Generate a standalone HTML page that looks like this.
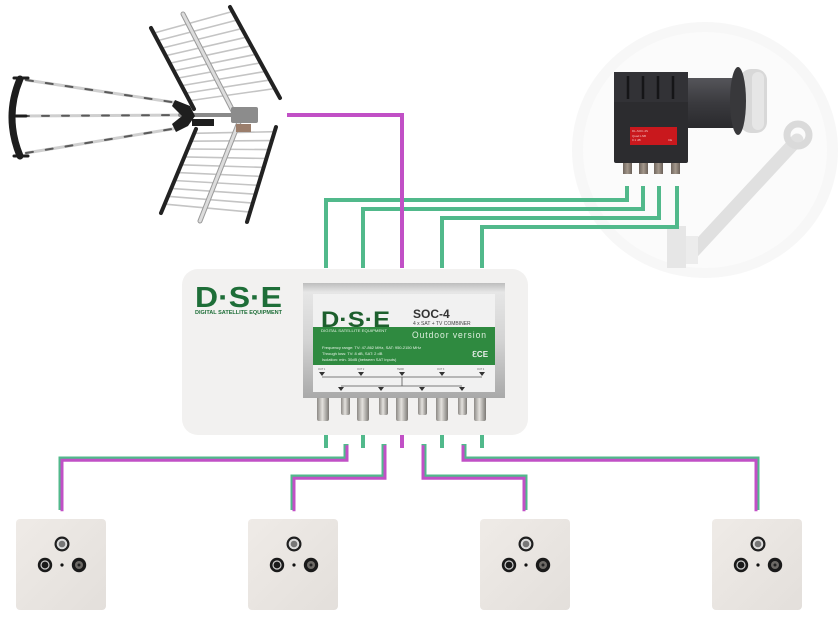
<!DOCTYPE html>
<html><head><meta charset="utf-8"><style>
html,body{margin:0;padding:0;background:#fff;}
svg{display:block;}
text{font-family:"Liberation Sans",sans-serif;}
</style></head><body>
<svg width="838" height="626" viewBox="0 0 838 626" xmlns="http://www.w3.org/2000/svg">
<defs>
<linearGradient id="metal" x1="0" y1="0" x2="0" y2="1">
<stop offset="0" stop-color="#bdbdbd"/><stop offset="0.08" stop-color="#e6e6e6"/><stop offset="0.5" stop-color="#d3d3d3"/><stop offset="1" stop-color="#a9a9a9"/></linearGradient>
<linearGradient id="conn" x1="0" y1="0" x2="1" y2="0">
<stop offset="0" stop-color="#8d8a86"/><stop offset="0.45" stop-color="#e4e2de"/><stop offset="1" stop-color="#7c7975"/></linearGradient>
<linearGradient id="barrel" x1="0" y1="0" x2="0" y2="1">
<stop offset="0" stop-color="#55555a"/><stop offset="0.5" stop-color="#3a3a3e"/><stop offset="1" stop-color="#2a2a2d"/></linearGradient>
<linearGradient id="plate" x1="0" y1="0" x2="1" y2="1">
<stop offset="0" stop-color="#efebe7"/><stop offset="1" stop-color="#e3dfdb"/></linearGradient>
<linearGradient id="lnbc" x1="0" y1="0" x2="1" y2="0">
<stop offset="0" stop-color="#6f655d"/><stop offset="0.5" stop-color="#a4988c"/><stop offset="1" stop-color="#6a6058"/></linearGradient>
</defs>

<!-- Dish background -->
<ellipse cx="705" cy="150" rx="133" ry="128" fill="#f7f7f7"/>
<ellipse cx="705" cy="150" rx="122" ry="118" fill="#fbfbfb"/>
<!-- dish arm -->
<line x1="797" y1="140" x2="693" y2="252" stroke="#e0e0e0" stroke-width="13" stroke-linecap="round"/>
<circle cx="798" cy="135" r="11" fill="none" stroke="#dadada" stroke-width="7"/>
<rect x="667" y="226" width="19" height="42" fill="#e6e6e6"/>
<rect x="686" y="236" width="12" height="28" fill="#ececec"/>

<!-- LNB -->
<rect x="686" y="78" width="50" height="50" fill="url(#barrel)"/>
<rect x="740" y="69" width="27" height="64" rx="11" fill="#d8d8d8"/>
<rect x="752" y="72" width="12" height="58" rx="6" fill="#e6e6e6"/>
<ellipse cx="738" cy="101" rx="8" ry="34" fill="#38383b"/>
<rect x="614" y="72" width="74" height="91" rx="2" fill="#2c2c2f"/>
<rect x="614" y="72" width="74" height="30" fill="#323236"/>
<g stroke="#151517" stroke-width="2.5">
<line x1="628" y1="76" x2="628" y2="99"/><line x1="643" y1="76" x2="643" y2="99"/>
<line x1="658" y1="76" x2="658" y2="99"/><line x1="673" y1="76" x2="673" y2="99"/>
</g>
<rect x="630" y="127" width="47" height="18" fill="#c9181d"/>
<g fill="#f0c0c0" font-size="3">
<text x="632" y="132">DL-SOC-4S</text><text x="632" y="137">Quad LNB</text><text x="632" y="141">0.1 dB</text>
<text x="668" y="141">CE</text></g>
<rect x="623" y="163" width="9" height="11" fill="url(#lnbc)"/>
<rect x="639" y="163" width="9" height="11" fill="url(#lnbc)"/>
<rect x="654" y="163" width="9" height="11" fill="url(#lnbc)"/>
<rect x="671" y="163" width="9" height="11" fill="url(#lnbc)"/>

<!-- Antenna -->
<g stroke-linecap="round">
<line x1="26" y1="80" x2="178" y2="103" stroke="#cfcfcf" stroke-width="3"/>
<line x1="22" y1="116" x2="188" y2="115" stroke="#cfcfcf" stroke-width="3"/>
<line x1="26" y1="153" x2="178" y2="128" stroke="#cfcfcf" stroke-width="3"/>
<line x1="26" y1="80" x2="178" y2="103" stroke="#5a5a5a" stroke-width="2" stroke-dasharray="7 13"/>
<line x1="22" y1="116" x2="188" y2="115" stroke="#5a5a5a" stroke-width="2" stroke-dasharray="7 13"/>
<line x1="26" y1="153" x2="178" y2="128" stroke="#5a5a5a" stroke-width="2" stroke-dasharray="7 13"/>
<path d="M20 79 Q4 117 20 156" fill="none" stroke="#1d1d1d" stroke-width="7"/>
<line x1="14" y1="78" x2="28" y2="78" stroke="#1d1d1d" stroke-width="3"/>
<line x1="14" y1="156" x2="28" y2="156" stroke="#1d1d1d" stroke-width="3"/>
<line x1="10" y1="116" x2="26" y2="116" stroke="#1d1d1d" stroke-width="3"/>
<g stroke="#c4c4c4" stroke-width="1.6">
<line x1="153.7" y1="33.1" x2="232" y2="11.6"/><line x1="157.8" y1="40.6" x2="236.8" y2="20.1"/>
<line x1="162" y1="48.1" x2="241.6" y2="28.6"/><line x1="166.1" y1="55.6" x2="246.4" y2="37.2"/>
<line x1="170.2" y1="63.1" x2="251.2" y2="45.7"/><line x1="174.4" y1="70.6" x2="256" y2="54.3"/>
<line x1="178.5" y1="78" x2="260.8" y2="62.8"/><line x1="182.6" y1="85.5" x2="265.6" y2="71.4"/>
<line x1="186.7" y1="93" x2="270.4" y2="79.9"/><line x1="190.9" y1="100.5" x2="275.2" y2="88.5"/>
<line x1="194.6" y1="133.3" x2="274.8" y2="131.7"/><line x1="191.2" y1="141.2" x2="272.1" y2="140.6"/>
<line x1="187.9" y1="149" x2="269.3" y2="149.6"/><line x1="184.5" y1="156.9" x2="266.5" y2="158.5"/>
<line x1="181.2" y1="164.8" x2="263.7" y2="167.4"/><line x1="177.8" y1="172.6" x2="260.9" y2="176.4"/>
<line x1="174.4" y1="180.5" x2="258.1" y2="185.3"/><line x1="171.1" y1="188.4" x2="255.4" y2="194.2"/>
<line x1="167.7" y1="196.3" x2="252.6" y2="203.1"/><line x1="164.4" y1="204.1" x2="249.8" y2="212.1"/>
</g>
<g stroke="#222" stroke-width="4">
<line x1="151" y1="28" x2="194" y2="109"/><line x1="230" y1="7" x2="280" y2="98"/>
<line x1="196" y1="129" x2="161" y2="213"/><line x1="276" y1="127" x2="247" y2="222"/>
</g>
<line x1="183" y1="14" x2="234" y2="113" stroke="#9a9a9a" stroke-width="5"/>
<line x1="183" y1="14" x2="234" y2="113" stroke="#dcdcdc" stroke-width="3"/>
<line x1="243" y1="112" x2="200" y2="221" stroke="#9a9a9a" stroke-width="5"/>
<line x1="243" y1="112" x2="200" y2="221" stroke="#dcdcdc" stroke-width="3"/>
<line x1="180" y1="115" x2="236" y2="115" stroke="#8a8a8a" stroke-width="4"/>
</g>
<path d="M175 100 L190 106 L195 116 L188 126 L176 132 L172 124 L182 116 L172 106 Z" fill="#1e1e1e"/>
<rect x="192" y="119" width="22" height="7" fill="#1e1e1e"/>
<rect x="231" y="107" width="27" height="16" rx="2" fill="#8c8c8c"/>
<rect x="236" y="124" width="15" height="8" fill="#9b7e6c"/>

<!-- Top wires -->
<g fill="none" stroke-width="4" stroke-linejoin="miter">
<path d="M627 186 V200 H326 V268" stroke="#51b98b"/>
<path d="M643 186 V209 H363 V268" stroke="#51b98b"/>
<path d="M659 186 V218 H442 V268" stroke="#51b98b"/>
<path d="M677 186 V227 H482 V268" stroke="#51b98b"/>
<path d="M287 115 H402 V268" stroke="#c150c6"/>
</g>

<!-- Device container -->
<rect x="182" y="269" width="346" height="166" rx="16" fill="#f2f1f0"/>
<text x="195" y="307" font-size="29" font-weight="bold" fill="#1e6e38" textLength="87" lengthAdjust="spacingAndGlyphs">D·S·E</text>
<text x="195" y="314" font-size="5" font-weight="bold" fill="#1e6e38" textLength="87" lengthAdjust="spacingAndGlyphs">DIGITAL SATELLITE EQUIPMENT</text>

<g>
<rect x="317" y="396" width="12" height="25" rx="2" fill="url(#conn)"/>
<rect x="341" y="396" width="9" height="19" rx="2" fill="url(#conn)"/>
<rect x="357" y="396" width="12" height="25" rx="2" fill="url(#conn)"/>
<rect x="379" y="396" width="9" height="19" rx="2" fill="url(#conn)"/>
<rect x="396" y="396" width="12" height="25" rx="2" fill="url(#conn)"/>
<rect x="418" y="396" width="9" height="19" rx="2" fill="url(#conn)"/>
<rect x="436" y="396" width="12" height="25" rx="2" fill="url(#conn)"/>
<rect x="458" y="396" width="9" height="19" rx="2" fill="url(#conn)"/>
<rect x="474" y="396" width="12" height="25" rx="2" fill="url(#conn)"/>
</g>
<rect x="303" y="283" width="202" height="115" fill="url(#metal)"/>
<rect x="313" y="294" width="182" height="98" fill="#f1f1f1"/>
<rect x="313" y="327" width="182" height="38" fill="#2f8a40"/>
<text x="321" y="327" font-size="22" font-weight="bold" fill="#1d5f2d" textLength="69" lengthAdjust="spacingAndGlyphs">D·S·E</text>
<text x="321" y="332" font-size="3.5" fill="#e0f0e0" textLength="66" lengthAdjust="spacingAndGlyphs">DIGITAL SATELLITE EQUIPMENT</text>
<text x="413" y="318" font-size="12" font-weight="bold" fill="#333">SOC-4</text>
<text x="413" y="325" font-size="5" fill="#444">4 x SAT + TV COMBINER</text>
<text x="412" y="338" font-size="9" fill="#dff0df" letter-spacing="1" textLength="75" lengthAdjust="spacingAndGlyphs">Outdoor version</text>
<g font-size="4" fill="#e8f4e8">
<text x="322" y="349">Frequency range: TV: 47-862 MHz, SAT: 950-2150 MHz</text>
<text x="322" y="355">Through loss: TV: 8 dB, SAT: 2 dB</text>
<text x="322" y="361">Isolation: min. 30dB (between SAT inputs)</text>
</g>
<text x="472" y="357" font-size="8" font-weight="bold" fill="#f0f0f0">ℇCE</text>
<g stroke="#555" stroke-width="0.8" fill="none">
<line x1="322" y1="377" x2="482" y2="377"/>
<line x1="402" y1="377" x2="402" y2="386"/>
<line x1="341" y1="386" x2="462" y2="386"/>
</g>
<g fill="#333">
<path d="M319 372 h6 l-3 4z"/><path d="M358 372 h6 l-3 4z"/><path d="M399 372 h6 l-3 4z"/><path d="M439 372 h6 l-3 4z"/><path d="M479 372 h6 l-3 4z"/>
<path d="M338 387 h6 l-3 4z"/><path d="M378 387 h6 l-3 4z"/><path d="M419 387 h6 l-3 4z"/><path d="M459 387 h6 l-3 4z"/>
</g>
<g font-size="2.5" fill="#666">
<text x="318" y="370">OUT 1</text><text x="357" y="370">OUT 2</text><text x="397" y="370">TERR</text><text x="437" y="370">OUT 3</text><text x="477" y="370">OUT 4</text>
</g>

<g stroke-width="4">
<line x1="326" y1="435" x2="326" y2="448" stroke="#51b98b"/>
<line x1="363" y1="435" x2="363" y2="448" stroke="#51b98b"/>
<line x1="402" y1="435" x2="402" y2="448" stroke="#c150c6"/>
<line x1="442" y1="435" x2="442" y2="448" stroke="#51b98b"/>
<line x1="482" y1="435" x2="482" y2="448" stroke="#51b98b"/>
</g>
<g fill="none" stroke-linejoin="miter">
<path d="M346 444 V459 H61 V510" stroke="#51b98b" stroke-width="5"/>
<path d="M384 444 V477 H293 V510" stroke="#51b98b" stroke-width="5"/>
<path d="M424 444 V477 H525 V510" stroke="#51b98b" stroke-width="5"/>
<path d="M464 444 V459 H757 V510" stroke="#51b98b" stroke-width="5"/>
<path d="M346 444 V459 H61 V510" stroke="#c150c6" stroke-width="3" transform="translate(1,1.3)"/>
<path d="M384 444 V477 H293 V510" stroke="#c150c6" stroke-width="3" transform="translate(1,1.3)"/>
<path d="M424 444 V477 H525 V510" stroke="#c150c6" stroke-width="3" transform="translate(-1,1.3)"/>
<path d="M464 444 V459 H757 V510" stroke="#c150c6" stroke-width="3" transform="translate(-1,1.3)"/>
</g>

<g id="p1">
<rect x="16" y="519" width="90" height="91" rx="4" fill="url(#plate)"/>
<circle cx="62" cy="544" r="7.5" fill="#1f1f1f"/><circle cx="62" cy="544" r="5.3" fill="#dcdcdc"/><circle cx="62" cy="544" r="3.3" fill="#777"/>
<circle cx="45" cy="565" r="7.2" fill="#1a1a1a"/><circle cx="45" cy="565" r="4.6" fill="#cfcfcf"/><circle cx="45" cy="565" r="3.4" fill="#1a1a1a"/>
<circle cx="79" cy="565" r="7.2" fill="#1a1a1a"/><circle cx="79" cy="565" r="4" fill="#6d6a66"/><circle cx="79" cy="565" r="1.5" fill="#222"/>
<circle cx="62" cy="565" r="1.6" fill="#111"/>
</g>
<use href="#p1" transform="translate(232,0)"/>
<use href="#p1" transform="translate(464,0)"/>
<use href="#p1" transform="translate(696,0)"/>
</svg>
</body></html>
